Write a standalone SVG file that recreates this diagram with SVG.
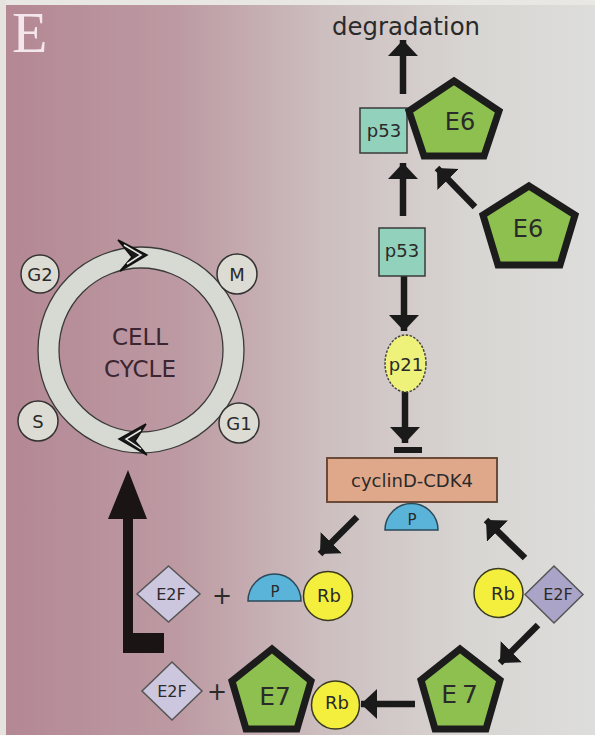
<svg xmlns="http://www.w3.org/2000/svg" width="595" height="735" viewBox="0 0 595 735">
  <defs>
    <linearGradient id="bg" x1="0" y1="0" x2="595" y2="0" gradientUnits="userSpaceOnUse">
      <stop offset="0" stop-color="#b38793"/>
      <stop offset="0.3" stop-color="#bd9aa3"/>
      <stop offset="0.55" stop-color="#cdbfc0"/>
      <stop offset="0.8" stop-color="#d8d6d3"/>
      <stop offset="1" stop-color="#dddddb"/>
    </linearGradient>
    <marker id="ah" markerUnits="userSpaceOnUse" markerWidth="18" markerHeight="32" refX="16" refY="15" orient="auto" viewBox="0 0 18 32">
      <path d="M0,0 L16,15 L0,30 Z" fill="#1a1a1a"/>
    </marker>
    <style>
      .lbl { font-family: "DejaVu Sans", "Liberation Sans", sans-serif; fill: #2a2a2a; text-anchor: middle; }
      .arrow { stroke: #1a1a1a; stroke-width: 6.5; fill: none; marker-end: url(#ah); }
      .pent { fill: #8dc04f; stroke: #1c1c1c; stroke-width: 7; stroke-linejoin: miter; }
      .p53 { fill: #92d1bb; stroke: #3a3a3a; stroke-width: 1.5; }
      .rb { fill: #f3ef3c; stroke: #3a3a20; stroke-width: 1.5; }
      .phos { fill: #5ab4d9; stroke: #2a4a5a; stroke-width: 1.5; }
      .e2f { fill: #cdc6df; stroke: #555; stroke-width: 1.5; }
      .phase { fill: #dcdcd4; stroke: #333; stroke-width: 1.5; }
      .ringhead { fill: #1a1a1a; stroke: #111; stroke-width: 1.5; stroke-linejoin: miter; }
      .ringhi { fill: none; stroke: #e8e8e4; stroke-width: 1.5; }
    </style>
  </defs>

  <rect x="0" y="0" width="595" height="735" fill="url(#bg)"/>
  <rect x="0" y="0" width="595" height="5" fill="#e9e7e3"/>
  <rect x="0" y="0" width="6" height="735" fill="#e6e3de"/>

  <text x="12" y="52" font-family="Liberation Serif, serif" font-size="58" fill="#f3e6ec">E</text>

  <!-- Cell cycle -->
  <g id="cell-cycle">
    <circle cx="141" cy="350" r="92.5" fill="none" stroke="#d7d9d3" stroke-width="21"/>
    <circle cx="141" cy="350" r="103" fill="none" stroke="#3a3a3a" stroke-width="1.3"/>
    <circle cx="141" cy="350" r="82" fill="none" stroke="#3a3a3a" stroke-width="1.3"/>
    <path class="ringhead" d="M118,240 L147,255 L120,271 L132,257 Z"/>
    <path class="ringhi" d="M124,245 L141,255 L127,264"/>
    <path class="ringhead" d="M146,424 L119,439 L147,455 L135,441 Z"/>
    <path class="ringhi" d="M141,430 L126,439 L141,449"/>
    <text class="lbl" x="140" y="345" font-size="23" style="fill:#3b2530">CELL</text>
    <text class="lbl" x="140" y="377" font-size="23" style="fill:#3b2530">CYCLE</text>
  </g>
  <g id="G2"><circle class="phase" cx="40" cy="274" r="19"/><text class="lbl" x="40" y="280.5" font-size="18">G2</text></g>
  <g id="M"><circle class="phase" cx="237" cy="274" r="20"/><text class="lbl" x="237" y="280.5" font-size="18">M</text></g>
  <g id="S"><circle class="phase" cx="38" cy="421" r="20"/><text class="lbl" x="38" y="427.5" font-size="18">S</text></g>
  <g id="G1"><circle class="phase" cx="239" cy="423" r="20"/><text class="lbl" x="239" y="429.5" font-size="18">G1</text></g>

  <!-- Connectors -->
  <g id="connectors">
    <line class="arrow" x1="403" y1="94" x2="403" y2="40"/>
    <line class="arrow" x1="403" y1="216" x2="403" y2="163"/>
    <line class="arrow" x1="475" y1="207" x2="437" y2="168"/>
    <line class="arrow" x1="404" y1="276" x2="404" y2="331"/>
    <line class="arrow" x1="405" y1="392" x2="405" y2="443"/>
    <rect x="394" y="447" width="28" height="6" fill="#1a1a1a"/>
    <line class="arrow" x1="357" y1="517" x2="320" y2="554"/>
    <line class="arrow" x1="525" y1="558" x2="486" y2="520"/>
    <line class="arrow" x1="538" y1="625" x2="500" y2="663"/>
    <line class="arrow" x1="415" y1="704" x2="361" y2="704"/>
    <path d="M164,633 L164,653 L123,653 L123,519 L108,519 L128,470 L147,519 L133,519 L133,633 Z" fill="#1a1414"/>
  </g>

  <!-- Nodes -->
  <g id="degradation"><text class="lbl" x="406" y="35" font-size="24" textLength="148" lengthAdjust="spacingAndGlyphs">degradation</text></g>

  <g id="p53-top"><rect class="p53" x="360" y="108" width="47" height="45"/><text class="lbl" x="384" y="137" font-size="18">p53</text></g>
  <g id="E6-top"><polygon class="pent" points="454,81 499,111 484,156 424,156 409,111"/><text class="lbl" x="460" y="130" font-size="24">E6</text></g>
  <g id="E6-free"><polygon class="pent" points="529,186 575,215 560,265 498,265 483,215"/><text class="lbl" x="528" y="237" font-size="24">E6</text></g>
  <g id="p53"><rect class="p53" x="379" y="228" width="46" height="48"/><text class="lbl" x="402" y="257" font-size="18">p53</text></g>
  <g id="p21"><ellipse cx="405.5" cy="363.5" rx="20.5" ry="28.5" fill="#eef27a" stroke="#444" stroke-width="1.5" stroke-dasharray="2.5,1.5"/><text class="lbl" x="406" y="371" font-size="18">p21</text></g>

  <g id="cyclinD-CDK4">
    <rect x="327" y="458" width="170" height="44" fill="#e0a88a" stroke="#6b4a3a" stroke-width="2"/>
    <text class="lbl" x="412" y="487" font-size="18">cyclinD-CDK4</text>
  </g>
  <g id="P-top"><path class="phos" d="M385,530 A26.5,26.5 0 0 1 438,530 Z"/><text class="lbl" x="412" y="525" font-size="15">P</text></g>

  <g id="E2F-left"><polygon class="e2f" points="168.5,566 200,594 168.5,622 137,594"/><text class="lbl" x="171" y="600" font-size="16">E2F</text></g>
  <g id="plus-1"><text class="lbl" x="222" y="604" font-size="24">+</text></g>
  <g id="P-left"><path class="phos" d="M248,601 A26.5,27 0 0 1 301,601 Z"/><text class="lbl" x="275" y="597" font-size="15">P</text></g>
  <g id="Rb-left"><circle class="rb" cx="328" cy="596" r="24.5"/><text class="lbl" x="329" y="602" font-size="18">Rb</text></g>

  <g id="Rb-right"><circle class="rb" cx="498.5" cy="593" r="24.5"/><text class="lbl" x="503" y="600" font-size="18">Rb</text></g>
  <g id="E2F-right"><polygon points="554,566 583,594.5 554,623 525,594.5" fill="#aaa4c8" stroke="#555" stroke-width="1.5"/><text class="lbl" x="558" y="600" font-size="16">E2F</text></g>

  <g id="E7-right"><polygon class="pent" points="460,649 500,680 486,729 435,729 421,680"/><text class="lbl" x="462" y="703" font-size="25" letter-spacing="5">E7</text></g>
  <g id="Rb-bottom"><circle class="rb" cx="335.5" cy="705" r="24"/><text class="lbl" x="337" y="709" font-size="18">Rb</text></g>
  <g id="E7-left"><polygon class="pent" points="272,649 311,681 297,729 246,729 232,681"/><text class="lbl" x="275" y="705" font-size="25">E7</text></g>
  <g id="plus-2"><text class="lbl" x="217" y="700" font-size="24">+</text></g>
  <g id="E2F-bottom"><polygon class="e2f" points="172,662 202,691 172,720 142,691"/><text class="lbl" x="172" y="697" font-size="16">E2F</text></g>
</svg>
